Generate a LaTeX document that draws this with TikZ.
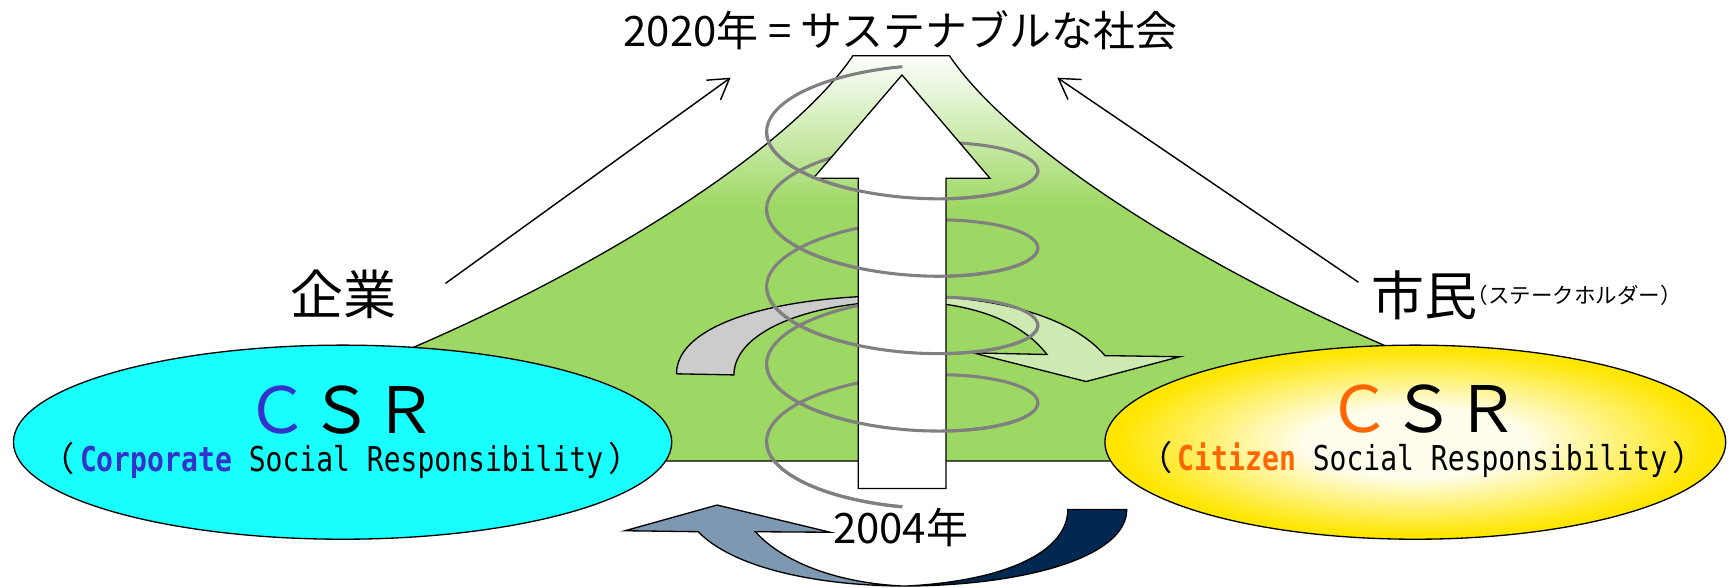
\documentclass[tikz,border=0pt]{standalone}
\usepackage{fontspec}
\usepackage{graphicx}
\setmainfont{Noto Sans CJK JP}
\newfontfamily\csrmono[FakeStretch=0.82]{DejaVu Sans Mono}
\usetikzlibrary{arrows.meta,shapes.geometric}

\definecolor{mtgreen}{RGB}{158,216,100}
\definecolor{cyanfill}{RGB}{25,255,255}
\definecolor{csrblue}{RGB}{51,51,204}
\definecolor{csrorange}{RGB}{255,102,0}
\definecolor{sunyellow}{RGB}{255,230,0}
\definecolor{sunpale}{RGB}{255,253,236}
\definecolor{helixgray}{RGB}{128,128,128}
\definecolor{backgray}{RGB}{204,204,204}
\definecolor{paleleaf}{RGB}{204,234,178}
\definecolor{slateblue}{RGB}{127,152,178}
\definecolor{deepnavy}{RGB}{0,40,80}

\pgfdeclareradialshading{sunglow}{\pgfpoint{0bp}{0bp}}{%
  color(0bp)=(sunpale); color(9bp)=(sunpale); color(24bp)=(sunyellow); color(50bp)=(sunyellow)}

\begin{document}
\begin{tikzpicture}[x=1pt,y=-1pt,
  inkline/.style={draw=black,line width=1.2pt},
  thinarrow/.style={line width=1.3pt,-{Straight Barb[length=18pt,width=22pt]}},
  helix/.style={draw=helixgray,line width=2.8pt},
  txt/.style={inner sep=0pt,outer sep=0pt},
  csrring/.style={ellipse,draw=black,line width=1.2pt,inner sep=0pt,
                  minimum width=#1,minimum height=176pt},
]
\useasboundingbox (0,0) rectangle (1568,533);

% ---- the mountain: green body, white summit haze, outline
\fill[mtgreen] (330,418) -- (330,338) -- (375,315)
  .. controls (560,235) and (720,130) .. (773.5,50.5) -- (861,50.5)
  .. controls (914.5,130) and (1074.5,235) .. (1259.5,315)
  -- (1305,338) -- (1305,418) -- cycle;
\begin{scope}
  \clip (330,418) -- (330,338) -- (375,315)
    .. controls (560,235) and (720,130) .. (773.5,50.5) -- (861,50.5)
    .. controls (914.5,130) and (1074.5,235) .. (1259.5,315)
    -- (1305,338) -- (1305,418) -- cycle;
  \shade[top color=white,bottom color=mtgreen] (560,48) rectangle (1080,188);
\end{scope}
\draw[inkline] (330,418) -- (330,338) -- (375,315)
  .. controls (560,235) and (720,130) .. (773.5,50.5) -- (861,50.5)
  .. controls (914.5,130) and (1074.5,235) .. (1259.5,315)
  -- (1305,338) -- (1305,418) -- cycle;

% ---- curved arrow passing behind the central pillar
\draw[inkline,fill=backgray] (613.5,339)
  .. controls (613.5,295) and (700,268) .. (818,268) -- (818,273)
  .. controls (730,274) and (665.6,302) .. (665.6,340) -- cycle;
\draw[inkline,fill=paleleaf] (818,268)
  .. controls (910,268) and (975,290) .. (1002,322.5)
  -- (1070,323.5) -- (985,346) -- (882.5,320) -- (949.5,321.5)
  .. controls (925,290) and (880,274) .. (818,273) -- cycle;

% ---- spiral (whole), then the pillar, then the front halves again
\draw[helix] plot[domain=0:1620,samples=400,smooth]
  ({818.2-123*sin(\x)},{102.1+(\x/360)*70.2-41.6*cos(\x)});

\draw[inkline,fill=white] (778.4,443) -- (778.4,161.7) -- (737.6,161.7)
  -- (818,68) -- (897.8,161.7) -- (857.9,161.7) -- (857.9,443) -- cycle;

\foreach \a/\b in {90/270,450/630,810/990,1170/1350,1530/1620}{
  \draw[helix] plot[domain=\a:\b,samples=60,smooth]
    ({818.2-123*sin(\x)},{102.1+(\x/360)*70.2-41.6*cos(\x)});
}

% ---- the two CSR ellipses
\node[csrring=597pt,fill=cyanfill] (corpCSR) at (310.7,401) {};
\node[csrring=563pt,shade,shading=sunglow] (citizenCSR) at (1283.5,401) {};

\node[txt,anchor=base] (corpAbbr) at (309.7,392.7)
  {\fontsize{58}{58}\selectfont{\color{csrblue}Ｃ}ＳＲ};
\node[txt,anchor=base] (corpFull) at (309.8,427.7)
  {\fontsize{31}{31}\selectfont （\hspace{5pt}{\csrmono\bfseries\color{csrblue}Corporate}{\csrmono{} Social Responsibility}\hspace{5pt}）};

\node[txt,anchor=base] (citizenAbbr) at (1291,392.5)
  {\fontsize{58}{58}\selectfont{\color{csrorange}Ｃ}ＳＲ};
\node[txt,anchor=base] (citizenFull) at (1290,426.5)
  {\fontsize{31}{31}\selectfont （\hspace{5pt}{\csrmono\bfseries\color{csrorange}Citizen}{\csrmono{} Social Responsibility}\hspace{5pt}）};

% ---- lower curved arrow
\draw[inkline,fill=deepnavy] (968.4,462) -- (1021.8,462)
  .. controls (1022,505) and (930,531) .. (820,531.5)
  .. controls (900,528) and (968,505) .. (968.4,462) -- cycle;
\draw[inkline,fill=slateblue] (820,531.5)
  .. controls (740,531) and (665,515) .. (633.2,482.2)
  -- (566.8,481.3) -- (650.3,458) -- (753,482.7) -- (685,482.2)
  .. controls (710,510) and (760,529) .. (820,531.5) -- cycle;

% ---- labels
\node[txt,anchor=base] (goal) at (816.5,42.3)
  {\fontsize{38}{38}\selectfont 2020年 = サステナブルな社会};
\node[txt,anchor=base] (startYear) at (816.7,492.7)
  {\fontsize{38}{38}\selectfont 2004年};
\node[txt] (kigyo) at (311.4,266.8) {\fontsize{48}{48}\selectfont 企業};
\node[txt] (shimin) at (1292,267.5) {\fontsize{48}{48}\selectfont 市民};
\node[txt,anchor=west] (stake) at (1330,267.5)
  {\fontsize{19.5}{19.5}\selectfont （ステークホルダー）};

% ---- thin arrows towards the goal
\coordinate (kigyoTail) at (404,257);
\coordinate (kigyoHead) at (662.6,70.4);
\coordinate (shiminTail) at (1232,256);
\coordinate (shiminHead) at (958.8,70.4);
\draw[thinarrow] (kigyoTail) -- (kigyoHead);
\draw[thinarrow] (shiminTail) -- (shiminHead);
\end{tikzpicture}
\end{document}
